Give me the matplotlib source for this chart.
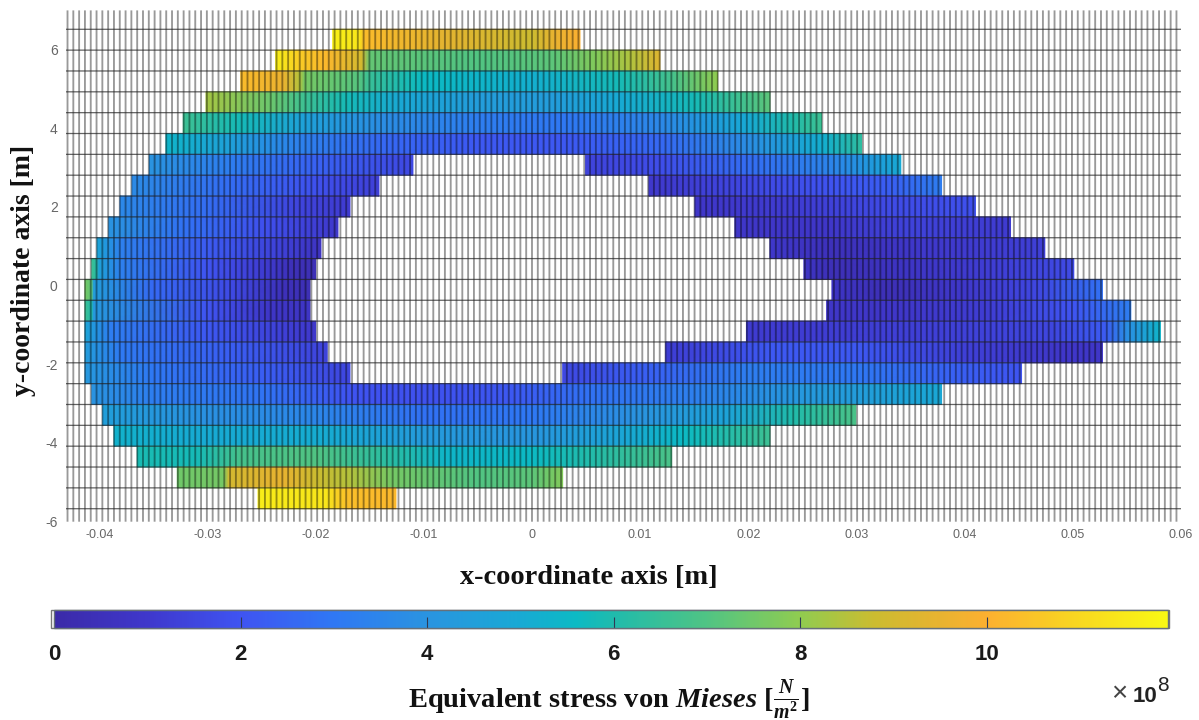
import numpy as np
import matplotlib
matplotlib.use("Agg")
import matplotlib.pyplot as plt
from matplotlib.colors import LinearSegmentedColormap, Normalize
from matplotlib.cm import ScalarMappable
from matplotlib.patches import Rectangle

W, H = 1199, 720
plt.rcParams['mathtext.fontset'] = 'custom'
plt.rcParams['mathtext.rm'] = 'Liberation Serif:bold'
plt.rcParams['mathtext.bf'] = 'Liberation Serif:bold'
plt.rcParams['mathtext.it'] = 'Liberation Serif:italic:bold'

# colour scale: (value in 1e8, colour)
CBAR_MAX = 11.94
CBAR_STOPS = [(0, '#3b2aa8'), (1, '#3f38cc'), (2, '#3f54f2'), (3, '#2f78f4'), (4, '#2a94e0'),
              (5, '#18aad4'), (5.6, '#0cbac4'), (6, '#20bbac'), (7, '#50c484'), (8, '#90cc50'),
              (8.8, '#ccbc30'), (9.4, '#e4b430'), (10, '#fcb030'), (11, '#f8d820'), (11.94, '#f8f814')]
CBAR_TICKS = [0, 2, 4, 6, 8, 10]

# mesh lines (x in mm, y in axis units)
GRID_X_FIRST, GRID_X_LAST, GRID_X_CELLS = -42.93, 59.58, 191
GRID_Y_TOP, GRID_Y_BOTTOM, GRID_Y_CELLS = 6.51, -5.67, 23
XLIM_MM = (-43.07, 60.0)
YLIM = (-6, 7)
X_TICKS = [-0.04, -0.03, -0.02, -0.01, 0, 0.01, 0.02, 0.03, 0.04, 0.05, 0.06]
X_TICK_LABELS = ['-0.04', '-0.03', '-0.02', '-0.01', '0', '0.01', '0.02', '0.03', '0.04', '0.05', '0.06']
Y_TICKS = [-6, -4, -2, 0, 2, 4, 6]
Y_TICK_LABELS = ['-6', '-4', '-2', '0', '2', '4', '6']

# stress per mesh row, top to bottom: (x in mm, stress in 1e8 N/m2); rows around the hole have two parts
ROW_00 = [(-18.42, 11.7), (-16, 11.4), (-15.5, 10.3), (-8.5, 9.4), (0, 8.8), (2, 9.5), (4.44, 10)]
ROW_01 = [(-23.69, 11.7), (-21.5, 10.7), (-19, 10.2), (-15.7, 9.0), (-15, 7.3), (-5, 7.0), (2, 7.2), (6, 7.8), (9, 8.4), (11.83, 9.3)]
ROW_02 = [(-26.92, 10.3), (-23, 9.6), (-21.5, 8.5), (-21, 7.6), (-16, 7.1), (-15, 6.5), (-10, 5.6), (0, 5.2), (8, 5.8), (13, 6.8), (17.16, 8.0)]
ROW_03 = [(-30.13, 8.3), (-24, 7.4), (-21, 6.6), (-17, 5.8), (-12, 4.9), (-5, 4.4), (2, 4.4), (8, 5.0), (15, 5.8), (19, 6.6), (22, 7.2)]
ROW_04 = [(-32.23, 6.6), (-27, 5.8), (-21, 4.6), (-14, 3.8), (-5, 3.2), (3, 3.0), (12, 3.6), (20, 5.0), (24, 6.0), (26.77, 6.6)]
ROW_05 = [(-33.83, 5.4), (-28, 4.6), (-22, 3.4), (-14, 2.6), (-5, 2.1), (3, 2.1), (12, 2.6), (20, 3.8), (27, 5.2), (30.47, 6.3)]
ROW_06_L = [(-35.37, 4.0), (-28, 3.2), (-20, 2.4), (-11, 1.6)]
ROW_06_R = [(4.96, 1.4), (12, 1.8), (20, 2.7), (28, 3.5), (34.1, 5.0)]
ROW_07_L = [(-36.97, 3.7), (-28, 2.7), (-20, 1.9), (-14.14, 1.3)]
ROW_07_R = [(10.81, 1.0), (20, 1.6), (28, 2.0), (33, 2.3), (37.87, 3.2)]
ROW_08_L = [(-38.08, 3.6), (-30, 2.7), (-22, 1.5), (-16.82, 1.1)]
ROW_08_R = [(15.06, 0.9), (25, 1.2), (33, 1.7), (41, 1.9)]
ROW_09_L = [(-39.12, 4.0), (-32, 2.8), (-25, 1.9), (-17.93, 1.0)]
ROW_09_R = [(18.76, 0.9), (27, 0.9), (35, 1.4), (44.24, 1.1)]
ROW_10_L = [(-40.2, 4.8), (-38, 3.3), (-30, 2.2), (-23, 1.3), (-19.5, 0.7)]
ROW_10_R = [(22, 1.0), (28, 0.5), (36, 1.0), (47.41, 1.3)]
ROW_11_L = [(-40.69, 6.6), (-40.3, 6.2), (-40, 4.6), (-38, 3.3), (-30, 2.0), (-25, 1.2), (-22, 0.4), (-19.99, 0.4)]
ROW_11_R = [(25.14, 0.8), (28, 0.4), (35, 0.8), (42, 1.2), (50.09, 1.7)]
ROW_12_L = [(-41.31, 7.6), (-40.7, 7.2), (-40.5, 4.4), (-35, 2.6), (-28, 1.7), (-23, 0.5), (-20.52, 0.4)]
ROW_12_R = [(27.73, 0.8), (33, 0.4), (40, 1), (47, 1.6), (52.74, 2.8)]
ROW_13_L = [(-41.31, 6.6), (-40.7, 6.0), (-40.5, 4.2), (-30, 2.0), (-24, 0.8), (-20.52, 0.8)]
ROW_13_R = [(27.24, 0.9), (33, 0.9), (42, 1.2), (50, 2), (55.36, 3.2)]
ROW_14_L = [(-41.31, 4.8), (-39, 3.2), (-30, 2.1), (-23, 1.3), (-19.99, 1.0)]
ROW_14_R = [(19.84, 1.1), (27, 1.2), (38, 1.3), (48, 1.5), (53, 2.2), (55, 3.8), (58.1, 5.4)]
ROW_15_L = [(-41.31, 4.4), (-38, 3.1), (-28, 2.3), (-18.92, 1.4)]
ROW_15_R = [(12.36, 1.2), (22, 2.1), (30, 2.1), (40, 1.3), (50, 0.9), (52.74, 0.9)]
ROW_16_L = [(-41.31, 4.2), (-35, 3.0), (-25, 2.3), (-16.82, 1.5)]
ROW_16_R = [(2.84, 1.6), (10, 2.3), (20, 3.2), (30, 3.0), (40, 2.3), (45.26, 2.0)]
ROW_17 = [(-40.69, 4.0), (-35, 3.2), (-25, 2.9), (-17, 2.0), (-10, 1.9), (-2, 2.1), (5, 2.8), (15, 3.3), (25, 4.2), (30, 4.4), (37.87, 4.9)]
ROW_18 = [(-39.68, 4.5), (-30, 3.9), (-20, 3.5), (-10, 2.8), (0, 3.0), (10, 4.0), (18, 4.7), (24, 6.0), (29.94, 6.9)]
ROW_19 = [(-38.63, 5.3), (-30, 5.0), (-20, 5.1), (-10, 4.3), (0, 4.1), (8, 4.8), (14, 5.6), (22, 6.6)]
ROW_20 = [(-36.48, 5.9), (-31, 5.8), (-27, 6.8), (-20, 7), (-13, 6.2), (-8, 5.4), (0, 5.6), (6, 6.1), (12.91, 6.9)]
ROW_21 = [(-32.78, 7.5), (-28.5, 7.6), (-28, 9.0), (-23, 9.5), (-20, 8.8), (-17, 8.5), (-13, 7.6), (-5, 7.0), (0, 7.2), (2.84, 7.8)]
ROW_22 = [(-25.32, 11.6), (-19, 11.4), (-18, 10.8), (-17, 10.4), (-12.57, 10.2)]

ROWS = [[ROW_00], [ROW_01], [ROW_02], [ROW_03], [ROW_04], [ROW_05],
        [ROW_06_L, ROW_06_R], [ROW_07_L, ROW_07_R], [ROW_08_L, ROW_08_R], [ROW_09_L, ROW_09_R],
        [ROW_10_L, ROW_10_R], [ROW_11_L, ROW_11_R], [ROW_12_L, ROW_12_R], [ROW_13_L, ROW_13_R],
        [ROW_14_L, ROW_14_R], [ROW_15_L, ROW_15_R], [ROW_16_L, ROW_16_R],
        [ROW_17], [ROW_18], [ROW_19], [ROW_20], [ROW_21], [ROW_22]]

cmap = LinearSegmentedColormap.from_list('bar', [(v / CBAR_MAX, c) for v, c in CBAR_STOPS], N=512)
norm = Normalize(0, CBAR_MAX)


def box(l, t, r, b):
    return [l / W, 1 - b / H, (r - l) / W, (b - t) / H]


fig = plt.figure(figsize=(W / 100, H / 100), dpi=100, facecolor='white')
ax = fig.add_axes(box(66, 10, 1181, 521.7))
ax.set_xlim(XLIM_MM[0] / 1000, XLIM_MM[1] / 1000)
ax.set_ylim(*YLIM)

y_edges = np.linspace(GRID_Y_TOP, GRID_Y_BOTTOM, GRID_Y_CELLS + 1)
x_lines = np.linspace(GRID_X_FIRST, GRID_X_LAST, GRID_X_CELLS + 1) / 1000

for i, parts in enumerate(ROWS):
    for part in parts:
        xs = np.array([p[0] for p in part]) / 1000
        vs = np.array([p[1] for p in part])
        X = np.vstack([xs, xs])
        Y = np.vstack([np.full_like(xs, y_edges[i + 1]), np.full_like(xs, y_edges[i])])
        C = np.vstack([vs, vs])
        ax.pcolormesh(X, Y, C, shading='gouraud', cmap=cmap, norm=norm, zorder=1)

vl = ax.vlines(x_lines, YLIM[0], YLIM[1] - 0.01, colors='black', linewidth=1.35, alpha=0.4, zorder=2)
vl.set_snap(False)
hl = ax.hlines(y_edges, XLIM_MM[0] / 1000, XLIM_MM[1] / 1000, colors='#222222', linewidth=0.9, alpha=0.7, zorder=3)
hl.set_snap(False)

for s in ax.spines.values():
    s.set_visible(False)
ax.set_xticks(X_TICKS, X_TICK_LABELS)
ax.set_yticks(Y_TICKS, Y_TICK_LABELS)
ax.tick_params(axis='both', length=0, colors='#666666')
ax.tick_params(axis='x', labelsize=9, pad=5)
ax.tick_params(axis='y', labelsize=10, pad=6)
for lab in ax.get_xticklabels() + ax.get_yticklabels():
    lab.set_fontfamily('Liberation Sans')

serif = dict(family='Liberation Serif', weight='bold', color='#111111')
fig.text(589 / W, 1 - 577 / H, 'x-coordinate axis [m]', ha='center', va='center', fontsize=20.5, **serif)
fig.text(24 / W, 1 - 270 / H, 'y-coordinate axis [m]', ha='center', va='center', rotation=90, fontsize=20, **serif)

# colour bar
fig.add_artist(Rectangle((50.5 / W, 1 - 627.5 / H), (1168.5 - 50.5) / W, 18 / H, transform=fig.transFigure,
                         facecolor='white', edgecolor='#777777', linewidth=1, zorder=-1))
cax = fig.add_axes(box(54, 610, 1168, 627.5))
cb = fig.colorbar(ScalarMappable(norm=norm, cmap=cmap), cax=cax, orientation='horizontal', ticks=CBAR_TICKS)
cb.outline.set_edgecolor('#66707a')
cb.outline.set_linewidth(1)
cax.tick_params(axis='x', direction='in', length=8, width=0.8, color='#2f3a55', pad=12, labelsize=16)
for lab in cax.get_xticklabels():
    lab.set_fontfamily('Liberation Sans')
    lab.set_fontweight('bold')
    lab.set_color('#1a1a1a')

fig.text(609 / W, 1 - 708 / H, r'$\mathbf{Equivalent\ stress\ von}\ \mathit{Mieses}\ [\frac{N}{m^2}]$',
         ha='center', va='baseline', fontsize=20.5, color='#111111')

sans = dict(family='Liberation Sans', color='#222222')
fig.text(1119 / W, 1 - 694 / H, '\u00d7', ha='center', va='center', fontsize=20, color='#444444', family='Liberation Sans')
fig.text(1157 / W, 1 - 702 / H, '10', ha='right', va='baseline', fontsize=16, weight='bold', **sans)
fig.text(1157 / W, 1 - 691 / H, '8', ha='left', va='baseline', fontsize=15, **sans)

fig.savefig('out.png', dpi=100)
